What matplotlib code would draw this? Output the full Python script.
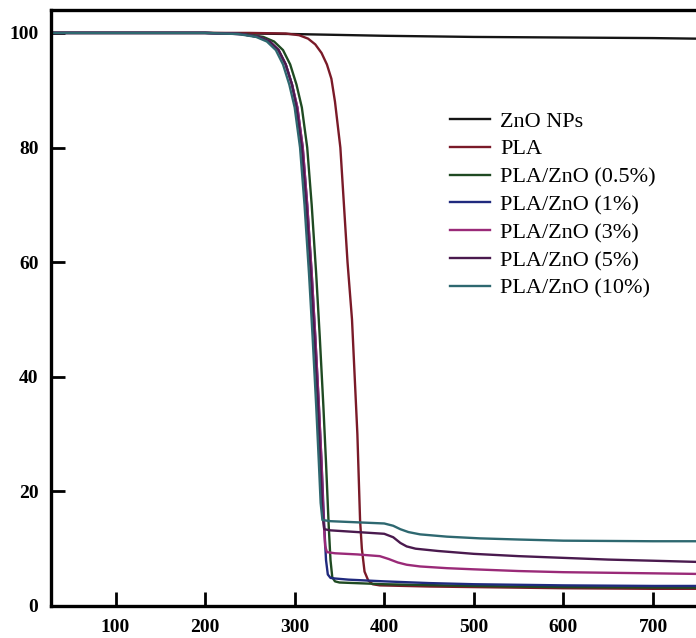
import matplotlib
matplotlib.use("Agg")
import matplotlib.pyplot as plt

# ── Data ───────────────────────────────────────────────────────────────────────

ZNO_T = [30, 200, 300, 400, 500, 600, 700, 748]
ZNO_W = [100, 100, 99.8, 99.5, 99.3, 99.2, 99.1, 99.0]

PLA_T = [30, 250, 290, 305, 315, 323, 330, 336, 341, 345, 351, 355, 359, 364, 367,
         370, 372, 373, 375, 378, 382, 387, 395, 450, 500, 600, 700, 748]
PLA_W = [100, 100, 99.9, 99.6, 99.0, 98.0, 96.5, 94.5, 92, 88, 80, 70, 60, 50, 40,
         30, 20, 15, 10, 6, 4.5, 3.8, 3.6, 3.4, 3.3, 3.1, 3.0, 3.0]

P05_T = [30, 200, 245, 265, 277, 287, 295, 302, 308, 314, 319, 324, 328, 332, 335,
         338, 340, 342, 345, 350, 400, 500, 600, 748]
P05_W = [100, 100, 99.8, 99.3, 98.5, 97, 94.5, 91, 87, 80, 70, 58, 47, 35, 25,
         14, 8, 5, 4.3, 4.1, 3.8, 3.5, 3.3, 3.2]

P1_T = [30, 200, 240, 260, 272, 282, 290, 297, 303, 309, 314, 319, 323, 327, 330,
        333, 335, 337, 340, 345, 360, 400, 450, 500, 600, 700, 748]
P1_W = [100, 100, 99.8, 99.3, 98.5, 97, 94.5, 91, 87, 80, 70, 58, 47, 35, 25,
        14, 8, 5.5, 4.9, 4.8, 4.6, 4.3, 4.0, 3.8, 3.6, 3.5, 3.5]

P3_T = [30, 200, 240, 260, 272, 282, 290, 297, 303, 309, 314, 319, 323, 327, 330,
        332, 334, 336, 345, 370, 395, 405, 415, 425, 440, 470, 500, 550, 600, 650,
        700, 748]
P3_W = [100, 100, 99.8, 99.3, 98.5, 97, 94.5, 91, 87, 80, 70, 58, 47, 35, 25,
        16, 10.5, 9.4, 9.2, 9.0, 8.7, 8.2, 7.6, 7.2, 6.9, 6.6, 6.4, 6.1, 5.9, 5.8,
        5.7, 5.6]

P5_T = [30, 200, 240, 260, 272, 282, 290, 297, 302, 308, 313, 318, 322, 326, 329,
        331, 333, 340, 370, 400, 410, 418, 425, 435, 460, 500, 550, 600, 650, 700,
        748]
P5_W = [100, 100, 99.8, 99.3, 98.5, 97, 94.5, 91, 87, 80, 70, 58, 47, 35, 24,
        16, 13.4, 13.2, 12.9, 12.6, 12.0, 11.0, 10.4, 10.0, 9.6, 9.1, 8.7, 8.4, 8.1,
        7.9, 7.7]

P10_T = [30, 200, 237, 257, 269, 279, 287, 294, 300, 306, 311, 316, 320, 324, 327,
         329, 331, 340, 370, 400, 410, 418, 427, 440, 470, 507, 550, 600, 700, 748]
P10_W = [100, 100, 99.8, 99.3, 98.5, 97, 94.5, 91, 87, 80, 70, 58, 47, 35, 25,
         18, 15.0, 14.8, 14.6, 14.4, 14.0, 13.4, 12.9, 12.5, 12.1, 11.8, 11.6, 11.4,
         11.3, 11.3]

SERIES = [
    ("ZnO NPs", ZNO_T, ZNO_W, "#151515"),
    ("PLA", PLA_T, PLA_W, "#7a1a28"),
    ("PLA/ZnO (0.5%)", P05_T, P05_W, "#1f4a22"),
    ("PLA/ZnO (1%)", P1_T, P1_W, "#202a7e"),
    ("PLA/ZnO (3%)", P3_T, P3_W, "#9a2a78"),
    ("PLA/ZnO (5%)", P5_T, P5_W, "#4a1a4e"),
    ("PLA/ZnO (10%)", P10_T, P10_W, "#2e6870"),
]

X_TICKS = [100, 200, 300, 400, 500, 600, 700]
Y_TICKS = [0, 20, 40, 60, 80, 100]

# ── Plot ───────────────────────────────────────────────────────────────────────

plt.rcParams["font.family"] = ["Liberation Serif", "DejaVu Serif"]

fig = plt.figure(figsize=(6.96, 6.38), dpi=100)
ax = fig.add_axes([51 / 696, 32 / 638, 1 - 51 / 696, (638 - 32 - 10) / 638])

for label, t, w, color in SERIES:
    ax.plot(t, w, color=color, linewidth=1.7, label=label)

ax.set_xlim(28, 748)
ax.set_ylim(0, 104)
ax.set_xticks(X_TICKS)
ax.set_yticks(Y_TICKS)
ax.tick_params(direction="in", length=10, width=2, pad=9,
               labelsize=14, top=False, right=False)
for lbl in ax.get_xticklabels() + ax.get_yticklabels():
    lbl.set_fontweight("bold")

for side in ["left", "bottom", "top"]:
    ax.spines[side].set_linewidth(2.4)
ax.spines["right"].set_visible(False)

fig.legend(
    loc="upper left",
    bbox_to_anchor=(450 / 696, 1 - 111 / 638),
    frameon=False,
    fontsize=16,
    handlelength=1.8,
    handletextpad=0.45,
    labelspacing=0.33,
    borderpad=0,
    borderaxespad=0,
)

fig.savefig("out.png", dpi=100)
